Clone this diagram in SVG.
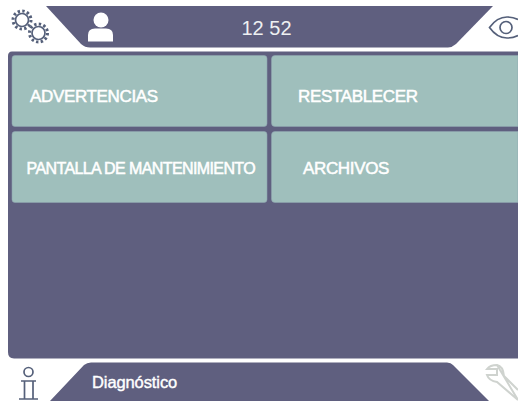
<svg xmlns="http://www.w3.org/2000/svg" width="518" height="401" viewBox="0 0 518 401">
<style>
.bar{fill:#5f5f7f}
.btn{fill:#9fbfbc;stroke:#8fa5b0;stroke-width:.6}
.t{font-family:"Liberation Sans",Arial,sans-serif;fill:#fff;letter-spacing:-.35px}
.b{font-size:17px;stroke:#fff;stroke-width:.5px}
.ic{fill:none;stroke:#55607a;stroke-width:1.700}
.gear{fill:none;stroke:#55607a;stroke-width:3;stroke-dasharray:2.400 2.312}
</style>
<rect width="518" height="401" fill="#fff"/>
<g id="top-bar"><path class="bar" d="M46 6H493L456 44Q452 47.500 448 47.500H90Q85 47.500 81 44Z"/></g>
<g id="panel"><path class="bar" d="M12 51.500H518V358.500H14Q8 358.500 8 352V56Q8 51.500 12 51.500Z"/></g>
<g id="bottom-bar"><path class="bar" d="M50 401L84 365Q87 362.500 91 362.500H447Q451 362.500 453 365L489 401Z"/></g>
<g id="btn-advertencias"><rect class="btn" x="12" y="55.500" width="255" height="71" rx="3"/><text class="t b" x="30" y="102">ADVERTENCIAS</text></g>
<g id="btn-restablecer"><path class="btn" d="M518 55.500H275Q271.500 55.500 271.500 59V123Q271.500 126.500 275 126.500H518Z"/><text class="t b" x="298" y="102">RESTABLECER</text></g>
<g id="btn-pantalla"><rect class="btn" x="12" y="131.500" width="255" height="71" rx="3"/><text class="t b" x="26.500" y="174" style="font-size:16px;letter-spacing:-.6px">PANTALLA DE MANTENIMIENTO</text></g>
<g id="btn-archivos"><path class="btn" d="M518 131.500H275Q271.500 131.500 271.500 135V199Q271.500 202.500 275 202.500H518Z"/><text class="t b" x="303" y="174">ARCHIVOS</text></g>
<g id="clock"><text class="t" x="266.500" y="35" text-anchor="middle" style="font-size:20px;letter-spacing:0;fill:#eef0f2">12 52</text></g>
<g id="title"><text class="t b" x="92" y="388" style="font-size:16.500px;letter-spacing:-.1px;stroke-width:.4px">Diagnóstico</text></g>
<g id="icon-settings">
<circle class="ic" cx="22" cy="20" r="6.500"/><circle class="gear" cx="22" cy="20" r="9"/>
<circle class="ic" cx="38.500" cy="33" r="6.500"/><circle class="gear" cx="38.500" cy="33" r="9"/>
</g>
<g id="icon-user" fill="#fff"><circle cx="101" cy="20" r="7.500"/><path d="M88 41.500V35Q88 28.500 95 28.500H106Q113 28.500 113 35V41.500Z"/></g>
<g id="icon-eye"><path class="ic" d="M518 19.500Q513 17 507 17Q497 17 489.500 27.500Q497 38 507 38Q513 38 518 35.500"/><circle class="ic" cx="506" cy="27.500" r="6"/></g>
<g id="icon-info"><circle class="ic" cx="28.500" cy="372" r="4.500"/><path class="ic" d="M21 381H36M24.500 381V399M33 381V399M19 399H38"/></g>
<g id="icon-tool"><path d="M497 365Q503 366 504 376L518 390M518 400L497 382Q489 381 487 375H497V369H487Q490 365 497 365Z" fill="none" stroke="#cfd3cf" stroke-width="2"/></g>
</svg>
